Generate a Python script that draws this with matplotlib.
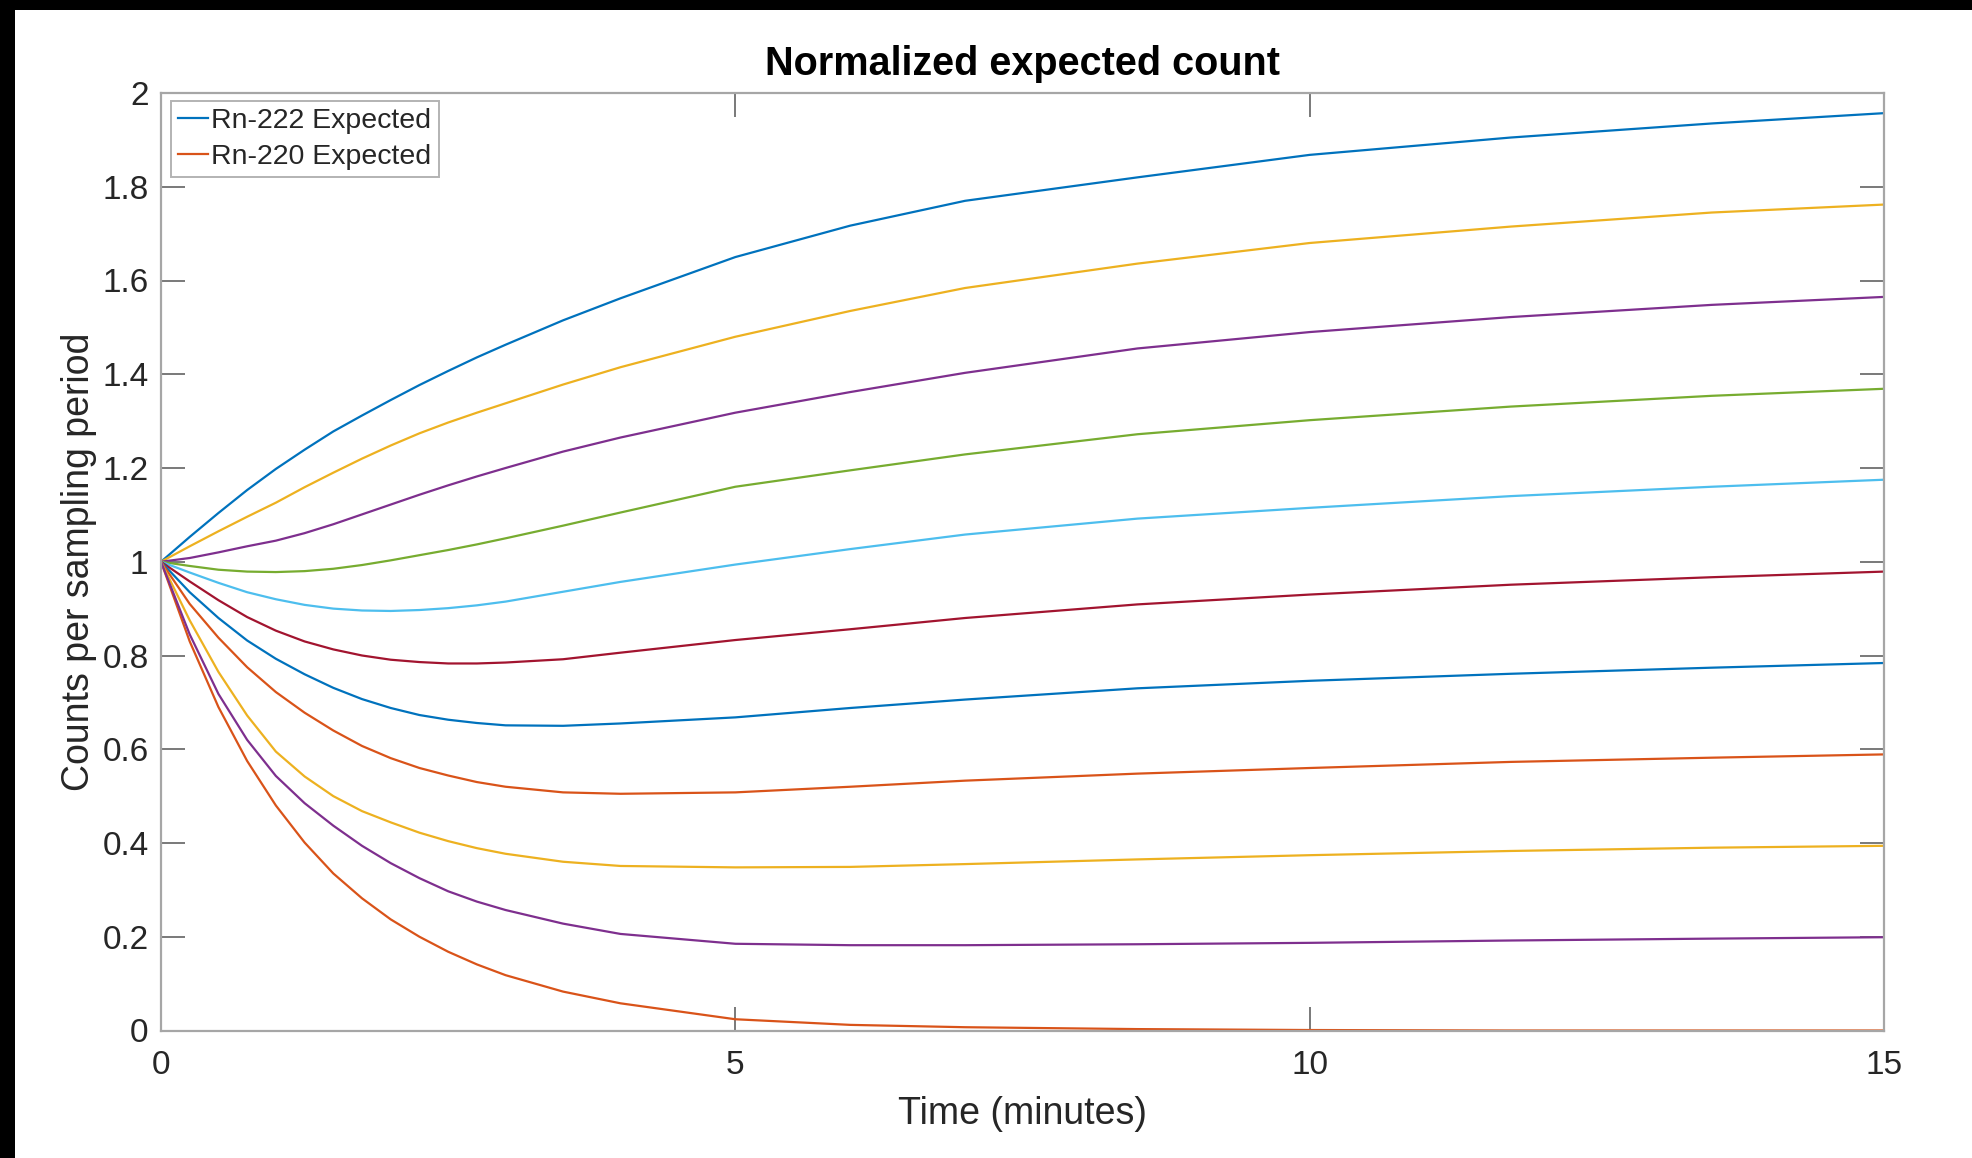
import matplotlib
matplotlib.use("Agg")
import matplotlib.pyplot as plt
from matplotlib.patches import Rectangle

plt.rcParams['font.family'] = ['Liberation Sans', 'DejaVu Sans']

# time samples (minutes)
t = [0, 0.25, 0.5, 0.75, 1, 1.25, 1.5, 1.75, 2, 2.25, 2.5, 2.75, 3, 3.5, 4,
     5, 6, 7, 8.5, 10, 11.75, 13.5, 15]

# curves, listed in plot order
rn222 = [1.0, 1.053, 1.104, 1.153, 1.198, 1.239, 1.278, 1.312, 1.345, 1.377, 1.407, 1.436,
         1.463, 1.515, 1.562, 1.650, 1.717, 1.770, 1.820, 1.868, 1.905, 1.935, 1.957]
rn220 = [1.0, 0.830, 0.690, 0.575, 0.480, 0.401, 0.335, 0.282, 0.237, 0.200, 0.168, 0.141,
         0.118, 0.083, 0.058, 0.024, 0.012, 0.007, 0.003, 0.001, 0.0, 0.0, 0.0]
mix90 = [1.0, 1.033, 1.065, 1.096, 1.126, 1.159, 1.190, 1.220, 1.248, 1.274, 1.297, 1.318,
         1.338, 1.378, 1.415, 1.480, 1.535, 1.584, 1.636, 1.680, 1.715, 1.745, 1.762]
mix80 = [1.0, 1.008, 1.020, 1.033, 1.045, 1.061, 1.080, 1.101, 1.122, 1.143, 1.163, 1.182,
         1.200, 1.235, 1.265, 1.318, 1.362, 1.403, 1.455, 1.490, 1.522, 1.548, 1.565]
mix70 = [1.0, 0.991, 0.983, 0.979, 0.978, 0.980, 0.985, 0.993, 1.003, 1.014, 1.025, 1.037,
         1.050, 1.077, 1.105, 1.160, 1.195, 1.229, 1.272, 1.302, 1.331, 1.354, 1.369]
mix60 = [1.0, 0.977, 0.955, 0.935, 0.920, 0.908, 0.900, 0.896, 0.895, 0.897, 0.901, 0.907,
         0.915, 0.936, 0.957, 0.994, 1.027, 1.058, 1.092, 1.115, 1.140, 1.160, 1.175]
mix50 = [1.0, 0.958, 0.918, 0.882, 0.853, 0.830, 0.813, 0.800, 0.791, 0.786, 0.783, 0.783,
         0.785, 0.792, 0.806, 0.833, 0.856, 0.880, 0.909, 0.930, 0.951, 0.967, 0.979]
mix40 = [1.0, 0.935, 0.880, 0.832, 0.793, 0.760, 0.731, 0.707, 0.688, 0.673, 0.663, 0.656,
         0.651, 0.650, 0.655, 0.668, 0.688, 0.706, 0.730, 0.746, 0.761, 0.774, 0.784]
mix30 = [1.0, 0.910, 0.838, 0.775, 0.722, 0.678, 0.640, 0.607, 0.581, 0.560, 0.544, 0.530,
         0.520, 0.508, 0.505, 0.508, 0.520, 0.533, 0.548, 0.560, 0.573, 0.582, 0.589]
mix20 = [1.0, 0.875, 0.765, 0.672, 0.595, 0.542, 0.500, 0.468, 0.444, 0.422, 0.404, 0.389,
         0.377, 0.360, 0.351, 0.348, 0.349, 0.355, 0.365, 0.374, 0.383, 0.390, 0.394]
mix10 = [1.0, 0.845, 0.718, 0.620, 0.543, 0.485, 0.437, 0.394, 0.357, 0.325, 0.297, 0.275,
         0.257, 0.228, 0.206, 0.185, 0.182, 0.182, 0.184, 0.187, 0.192, 0.196, 0.199]

series = [rn222, rn220, mix90, mix80, mix70, mix60, mix50, mix40, mix30, mix20, mix10]
labels = ['Rn-222 Expected', 'Rn-220 Expected']

matlab_colors = ['#0072BD', '#D95319', '#EDB120', '#7E2F8E', '#77AC30', '#4DBEEE', '#A2142F']

xticks = [0, 5, 10, 15]
yticks = [0, 0.2, 0.4, 0.6, 0.8, 1.0, 1.2, 1.4, 1.6, 1.8, 2.0]
ytick_labels = ['0', '0.2', '0.4', '0.6', '0.8', '1', '1.2', '1.4', '1.6', '1.8', '2']

fig = plt.figure(figsize=(19.72, 11.58), dpi=100)
fig.patch.set_facecolor('white')
# black strips along the left and top edges of the screenshot
fig.patches.append(Rectangle((0, 0), 15 / 1972, 1, transform=fig.transFigure,
                             facecolor='black', edgecolor='none', zorder=10))
fig.patches.append(Rectangle((0, 1 - 10 / 1158), 1, 10 / 1158, transform=fig.transFigure,
                             facecolor='black', edgecolor='none', zorder=10))

ax = fig.add_axes([161 / 1972, 1 - 1030.5 / 1158, 1723 / 1972, 937.5 / 1158])

lines = []
for i, s in enumerate(series):
    ln, = ax.plot(t, s, color=matlab_colors[i % 7], lw=1.6, solid_joinstyle='round')
    lines.append(ln)

ax.set_xlim(0, 15)
ax.set_ylim(0, 2)
ax.set_xticks(xticks)
ax.set_xticklabels([str(x) for x in xticks])
ax.set_yticks(yticks)
ax.set_yticklabels(ytick_labels)

spine_col = '#a6a6a6'
for sp in ax.spines.values():
    sp.set_color(spine_col)
    sp.set_linewidth(1.6)
ax.tick_params(direction='in', length=17, width=1.3, color='#6e6e6e',
               top=True, right=True, labelsize=24, labelcolor='#262626')
ax.tick_params(axis='x', pad=14)
ax.tick_params(axis='y', pad=9)

ax.set_xlabel('Time (minutes)', fontsize=27, color='#262626')
ax.xaxis.set_label_coords(0.5, -0.089)
ax.xaxis.label.set_va('center')
ax.set_ylabel('Counts per sampling period', fontsize=27, color='#262626')
ax.yaxis.set_label_coords(-0.0475, 0.5)
ax.yaxis.label.set_va('center')

ax.set_title('Normalized expected count', fontsize=28.5, fontweight='bold',
             color='black', y=1.031, pad=0, va='center')

leg = ax.legend(lines[:2], labels, loc='upper left', bbox_to_anchor=(0.0058, 0.9915),
                borderaxespad=0, fontsize=20.5, handlelength=1.05, handletextpad=0.12,
                labelspacing=0.35, borderpad=0.25, fancybox=False, frameon=True)
leg.get_frame().set_edgecolor('#a0a0a0')
leg.get_frame().set_linewidth(1.4)
for txt in leg.get_texts():
    txt.set_color('#262626')

fig.savefig('out.png', dpi=100)
